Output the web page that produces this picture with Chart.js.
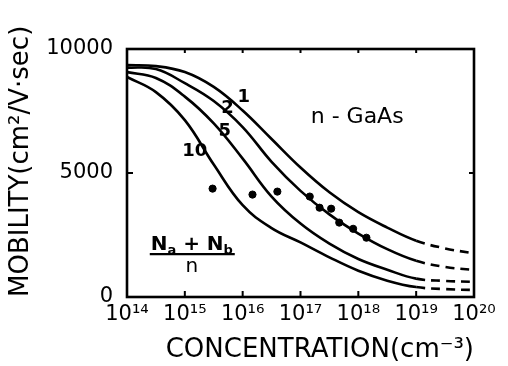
<!DOCTYPE html>
<html>
<head>
<meta charset="utf-8">
<script src="https://cdn.jsdelivr.net/npm/chart.js@4.4.1/dist/chart.umd.min.js"></script>
<style>
  html, body { margin: 0; padding: 0; background: #fff; }
</style>
</head>
<body>
<canvas id="mobilityChart" width="508" height="366"></canvas>
<script>
// log10 of the concentration (cm^-3)
var logConc = [14, 14.5, 15, 15.5, 16, 16.5, 17, 17.5, 18, 18.5, 19, 19.5, 20];
// mobility (cm2/V.sec) for (Na+Nb)/n = 1, 2, 5, 10
var mobility1 = [9350, 9310, 9070, 8470, 7520, 6370, 5220, 4220, 3420, 2800, 2270, 1960, 1760];
var mobility2 = [9250, 9190, 8620, 7900, 6850, 5450, 4280, 3330, 2560, 1930, 1460, 1210, 1090];
var mobility5 = [9070, 8830, 8080, 7000, 5580, 4050, 2960, 2150, 1530, 1100, 740, 650, 610];
var mobility10 = [8870, 8260, 7130, 5340, 3700, 2780, 2200, 1600, 1060, 660, 400, 320, 280];
var curveNames = ["1", "2", "5", "10"];
// measured points
var measLogConc = [15.48, 16.17, 16.6, 17.16, 17.33, 17.53, 17.67, 17.91, 18.14];
var measMobility = [4370, 4130, 4250, 4050, 3600, 3560, 3000, 2750, 2390];
var xTickValues = [14, 15, 16, 17, 18, 19, 20];
var yTickValues = [0, 5000, 10000];

var sup = {"0": "\u2070", "1": "\u00b9", "2": "\u00b2", "3": "\u00b3", "4": "\u2074",
  "5": "\u2075", "6": "\u2076", "7": "\u2077", "8": "\u2078", "9": "\u2079"};
function pow10Label(v) {
  return "10" + String(v).split("").map(function (c) { return sup[c]; }).join("");
}

function curve(values) {
  return {
    type: "line",
    data: logConc.map(function (x, i) { return { x: x, y: values[i] }; }),
    borderColor: "#000",
    borderWidth: 2.6,
    pointRadius: 0,
    tension: 0.4,
    fill: false,
    segment: {
      borderDash: function (c) { return c.p0.parsed.x >= 19 ? [9, 6] : undefined; }
    }
  };
}

// where the curve numbers and notes sit, in data units
var notes = {
  curveLabelX: [16.02, 15.74, 15.69, 15.17],
  curveLabelY: [8060, 7600, 6680, 5870],
  materialX: 17.98, materialY: 7250,
  ratioX: 15.12, ratioY: 1770
};

var framePlugin = {
  id: "frame",
  afterDatasetsDraw: function (chart) {
    var ctx = chart.ctx, a = chart.chartArea;
    var x = chart.scales.x, y = chart.scales.y;
    ctx.save();
    ctx.strokeStyle = "#000";
    ctx.lineWidth = 2.6;
    ctx.strokeRect(a.left, a.top, a.right - a.left, a.bottom - a.top);
    ctx.lineWidth = 2;
    ctx.beginPath();
    xTickValues.forEach(function (v) {
      var px = x.getPixelForValue(v);
      ctx.moveTo(px, a.bottom); ctx.lineTo(px, a.bottom - 6);
      ctx.moveTo(px, a.top); ctx.lineTo(px, a.top + 4);
    });
    var py = y.getPixelForValue(5000);
    ctx.moveTo(a.left, py); ctx.lineTo(a.left + 6, py);
    ctx.moveTo(a.right, py); ctx.lineTo(a.right - 5, py);
    ctx.stroke();

    ctx.fillStyle = "#000";
    ctx.textAlign = "center";
    ctx.textBaseline = "middle";
    ctx.font = "bold 18px 'DejaVu Sans'";
    curveNames.forEach(function (n, i) {
      ctx.fillText(n, x.getPixelForValue(notes.curveLabelX[i]), y.getPixelForValue(notes.curveLabelY[i]));
    });

    ctx.font = "22px 'DejaVu Sans'";
    ctx.fillText("n - GaAs", x.getPixelForValue(notes.materialX), y.getPixelForValue(notes.materialY));

    // (Na + Nb) / n
    var cx = x.getPixelForValue(notes.ratioX), cy = y.getPixelForValue(notes.ratioY);
    ctx.textAlign = "left";
    ctx.textBaseline = "alphabetic";
    var big = "bold 20px 'DejaVu Sans'", small = "bold 13px 'DejaVu Sans'";
    var parts = [["N", big, 0], ["a", small, 4], [" + ", big, 0], ["N", big, 0], ["b", small, 4]];
    var w = 0;
    parts.forEach(function (p) { ctx.font = p[1]; w += ctx.measureText(p[0]).width; });
    var tx = cx - w / 2;
    parts.forEach(function (p) {
      ctx.font = p[1];
      ctx.fillText(p[0], tx, cy - 3 + p[2]);
      tx += ctx.measureText(p[0]).width;
    });
    ctx.lineWidth = 2.4;
    ctx.beginPath();
    ctx.moveTo(cx - 42, cy + 1); ctx.lineTo(cx + 43, cy + 1);
    ctx.stroke();
    ctx.textAlign = "center";
    ctx.font = "20px 'DejaVu Sans'";
    ctx.fillText("n", cx, cy + 19);
    ctx.restore();
  }
};

var ctx = document.getElementById("mobilityChart").getContext("2d");
var myChart = new Chart(ctx, {
  data: {
    datasets: [
      curve(mobility1),
      curve(mobility2),
      curve(mobility5),
      curve(mobility10),
      {
        type: "scatter",
        data: measLogConc.map(function (x, i) { return { x: x, y: measMobility[i] }; }),
        backgroundColor: "#000",
        borderColor: "#000",
        pointRadius: 3.6
      }
    ]
  },
  options: {
    responsive: false,
    animation: false,
    layout: { padding: { top: 49, right: 34, left: 0, bottom: 0 } },
    plugins: { legend: { display: false }, tooltip: { enabled: false } },
    scales: {
      x: {
        type: "linear",
        min: 14, max: 20,
        afterBuildTicks: function (s) { s.ticks = xTickValues.map(function (v) { return { value: v }; }); },
        afterFit: function (s) { s.height = 69; },
        grid: { display: false },
        border: { display: false },
        ticks: {
          color: "#000", padding: -3,
          font: { family: "'DejaVu Sans'", size: 21 },
          maxRotation: 0, autoSkip: false,
          callback: function (v) { return pow10Label(v); }
        },
        title: {
          display: true, align: "end", color: "#000",
          text: "CONCENTRATION(cm\u207b\u00b3)",
          font: { family: "'DejaVu Sans'", size: 26 },
          padding: { top: 0, bottom: 0 }
        }
      },
      y: {
        min: 0, max: 10000,
        afterBuildTicks: function (s) { s.ticks = yTickValues.map(function (v) { return { value: v }; }); },
        afterFit: function (s) { s.width = 127; },
        grid: { display: false },
        border: { display: false },
        ticks: {
          color: "#000", padding: 6,
          font: { family: "'DejaVu Sans'", size: 21 },
          callback: function (v) { return String(v); }
        },
        title: {
          display: true, align: "start", color: "#000",
          text: "MOBILITY(cm\u00b2/V\u00b7sec)",
          font: { family: "'DejaVu Sans'", size: 26 },
          padding: { top: 6, bottom: 0 }
        }
      }
    }
  },
  plugins: [framePlugin]
});
</script>
</body>
</html>
